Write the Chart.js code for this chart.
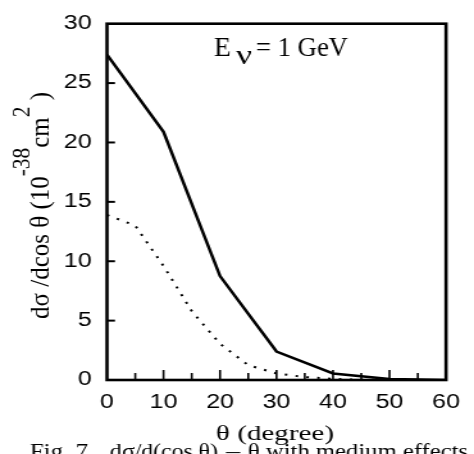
<!DOCTYPE html>
<html>
<head>
<meta charset="utf-8">
<script src="https://cdn.jsdelivr.net/npm/chart.js@4/dist/chart.umd.min.js"></script>
<style>
  html, body { margin: 0; padding: 0; background: #fff; overflow: hidden; }
  #wrap { width: 370px; height: 454px; transform: scaleX(1.281081); transform-origin: 0 0; }
  canvas { display: block; }
</style>
</head>
<body>
<div id="wrap"><canvas id="c" width="370" height="454" style="width:370px;height:454px"></canvas></div>
<script>
// ---- data ----
const thetaSolid  = [0, 10, 20, 30, 40, 50, 60];
const sigmaSolid  = [27.4, 20.9, 8.75, 2.4, 0.55, 0.08, 0];
const thetaDotted = [0, 5, 10, 15, 20, 25, 30, 35, 40, 45, 50];
const sigmaDotted = [13.9, 13.0, 9.6, 5.8, 3.05, 1.25, 0.55, 0.25, 0.09, 0.02, 0];
const xTickLabels = [0, 10, 20, 30, 40, 50, 60];
const yTickLabels = [0, 5, 10, 15, 20, 25, 30];
const xTitle = 'θ (degree)';
const energyLabel = ['E', 'ν', '= 1 GeV'];
const yTitleParts = ['dσ /dcos θ (10', '-38', 'cm', '2', ' )'];
const captionParts = ['Fig. 7', 'dσ/d(cos θ)', '–', 'θ with medium effects'];

// ---- layout helpers (page px -> canvas px, page is stretched horizontally) ----
const S = 474 / 370;
const PX = x => x / S;
const SERIF = '"Liberation Serif", "Times New Roman", serif';
const SANS = '"Liberation Sans", Arial, sans-serif';

function fitText(ctx, text, font, xL, xR, baseline) {
  ctx.save();
  ctx.font = font;
  ctx.textAlign = 'left';
  ctx.textBaseline = 'alphabetic';
  const w = ctx.measureText(text).width;
  const target = PX(xR - xL);
  ctx.translate(PX(xL), baseline);
  ctx.scale(target / w, 1);
  ctx.fillText(text, 0, 0);
  ctx.restore();
}

const decor = {
  id: 'decor',
  afterDraw(chart) {
    const ctx = chart.ctx;
    const a = chart.chartArea;
    const xs = chart.scales.x, ys = chart.scales.y;
    ctx.save();
    ctx.fillStyle = '#000';
    ctx.strokeStyle = '#000';
    // inward tick marks
    ctx.lineWidth = 1.6;
    for (let v = 5; v < 60; v += 5) {
      const px = xs.getPixelForValue(v);
      const len = (v % 10 === 0) ? 10 : 7;
      ctx.beginPath(); ctx.moveTo(px, a.bottom); ctx.lineTo(px, a.bottom - len); ctx.stroke();
    }
    ctx.lineWidth = 2;
    for (let v = 5; v < 30; v += 5) {
      const py = ys.getPixelForValue(v);
      ctx.beginPath(); ctx.moveTo(a.left, py); ctx.lineTo(a.left + PX(8), py); ctx.stroke();
    }
    // frame
    ctx.lineWidth = 2.6;
    ctx.strokeRect(a.left, a.top, a.right - a.left, a.bottom - a.top);

    // energy label
    fitText(ctx, energyLabel[0], '27px ' + SERIF, 214, 231, 56);
    fitText(ctx, energyLabel[1], '27px ' + SERIF, 236, 252, 64);
    fitText(ctx, energyLabel[2], '27px ' + SERIF, 256, 348, 56);

    // x axis title
    fitText(ctx, xTitle, '21px ' + SERIF, 216, 334, 439.5);

    // caption (cut off at bottom)
    ctx.save();
    ctx.font = '20px ' + SERIF;
    const wF = ctx.measureText(captionParts[0]).width;
    ctx.restore();
    fitText(ctx, captionParts[0], '20px ' + SERIF, 88 - wF * 1.25, 88, 458);
    fitText(ctx, captionParts[1], '20px ' + SERIF, 110, 218, 458);
    fitText(ctx, captionParts[2], '20px ' + SERIF, 226, 240, 458);
    fitText(ctx, captionParts[3], '20px ' + SERIF, 248, 468, 458);

    // y axis title (rotated, with raised exponents)
    const mainF = '21px ' + SERIF, supF = '18px ' + SERIF;
    const segs = [
      [yTitleParts[0], mainF, 0],
      [yTitleParts[1], supF, 15],
      [yTitleParts[2], mainF, 0],
      [yTitleParts[3], supF, 15],
      [yTitleParts[4], mainF, 0]
    ];
    let total = 0;
    const widths = segs.map(s => { ctx.font = s[1]; const w = ctx.measureText(s[0]).width; total += w; return w; });
    const yBottom = 319, yTop = 92;
    const k = (yBottom - yTop) / total;
    ctx.save();
    ctx.translate(PX(49), yBottom);
    ctx.rotate(-Math.PI / 2);
    ctx.scale(k, 1);
    ctx.textBaseline = 'alphabetic';
    ctx.textAlign = 'left';
    let pos = 0;
    segs.forEach((s, i) => {
      ctx.font = s[1];
      ctx.fillText(s[0], pos, -s[2]);
      pos += widths[i];
    });
    ctx.restore();
    ctx.restore();
  }
};

new Chart(document.getElementById('c'), {
  type: 'line',
  data: {
    datasets: [
      {
        data: thetaSolid.map((t, i) => ({ x: t, y: sigmaSolid[i] })),
        borderColor: '#000', borderWidth: 2.5, pointRadius: 0, tension: 0, fill: false
      },
      {
        data: thetaDotted.map((t, i) => ({ x: t, y: sigmaDotted[i] })),
        borderColor: '#000', borderWidth: 2, borderDash: [2, 6.5], pointRadius: 0, tension: 0, fill: false
      }
    ]
  },
  options: {
    responsive: false,
    animation: false,
    devicePixelRatio: 1,
    layout: { padding: { left: 0, right: 370 - PX(454), top: 11.5, bottom: 0 } },
    plugins: { legend: { display: false }, tooltip: { enabled: false }, title: { display: false } },
    scales: {
      x: {
        type: 'linear', min: 0, max: 60,
        afterFit: s => { s.height = 454 - 380; },
        afterBuildTicks: s => { s.ticks = xTickLabels.map(v => ({ value: v })); },
        grid: { display: false, drawTicks: false },
        border: { display: false },
        ticks: { color: '#000', font: { family: SANS, size: 19.5 }, padding: 11, maxRotation: 0 }
      },
      y: {
        type: 'linear', min: 0, max: 30,
        afterFit: s => { s.width = PX(107); },
        afterBuildTicks: s => { s.ticks = yTickLabels.map(v => ({ value: v })); },
        grid: { display: false, drawTicks: false },
        border: { display: false },
        ticks: { color: '#000', font: { family: SANS, size: 19.5 }, padding: 12 }
      }
    }
  },
  plugins: [decor]
});
</script>
</body>
</html>
